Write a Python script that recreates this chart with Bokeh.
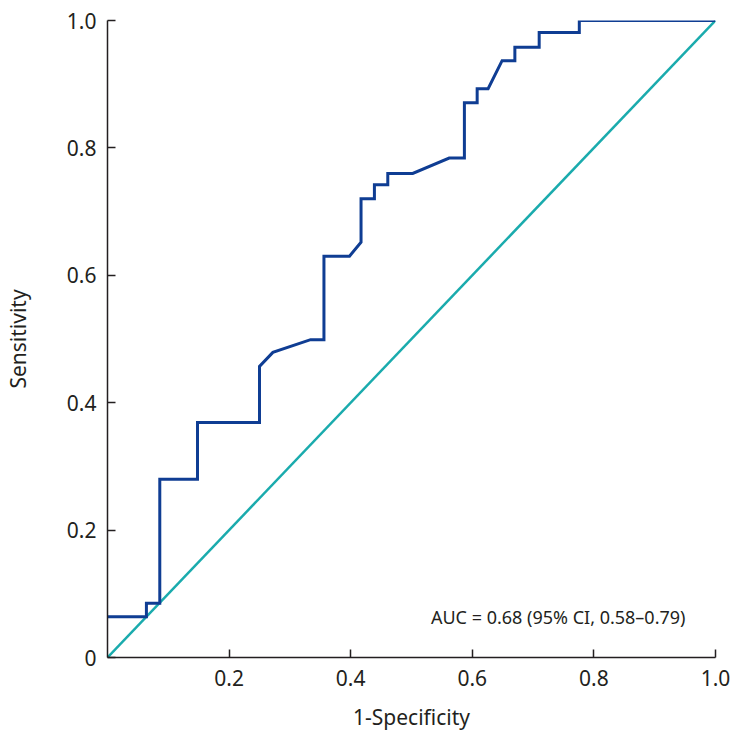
from bokeh.plotting import figure
from bokeh.models import FixedTicker, Range1d, Label
from bokeh.embed import file_html
from bokeh.resources import INLINE

# ROC curve points (1-specificity, sensitivity)
fpr = [0.0, 0.064, 0.064, 0.086, 0.086, 0.148, 0.148, 0.250, 0.250, 0.272, 0.334, 0.356,
       0.356, 0.398, 0.417, 0.417, 0.439, 0.439, 0.461, 0.461, 0.502, 0.562, 0.587,
       0.587, 0.608, 0.608, 0.626, 0.649, 0.670, 0.670, 0.710, 0.710, 0.776, 0.776, 1.0]
tpr = [0.064, 0.064, 0.085, 0.085, 0.280, 0.280, 0.369, 0.369, 0.457, 0.479, 0.499, 0.499,
       0.630, 0.630, 0.652, 0.720, 0.720, 0.742, 0.742, 0.760, 0.760, 0.784, 0.784,
       0.871, 0.871, 0.893, 0.893, 0.937, 0.937, 0.958, 0.958, 0.981, 0.981, 1.0, 1.0]
ref_x = [0.0, 1.0]
ref_y = [0.0, 1.0]
x_ticks = [0.2, 0.4, 0.6, 0.8, 1.0]
x_tick_labels = ["0.2", "0.4", "0.6", "0.8", "1.0"]
y_ticks = [0.0, 0.2, 0.4, 0.6, 0.8, 1.0]
y_tick_labels = ["0", "0.2", "0.4", "0.6", "0.8", "1.0"]
auc_text = "AUC = 0.68 (95% CI, 0.58\u20130.79)"

FONT = "Noto Sans"
TXT = "#231f20"

p = figure(width=736, height=745, output_backend="svg", toolbar_location=None,
           x_range=Range1d(0, 1), y_range=Range1d(0, 1),
           min_border_left=106, min_border_right=21, min_border_top=20, min_border_bottom=88)
p.outline_line_color = None
p.xgrid.grid_line_color = None
p.ygrid.grid_line_color = None
p.background_fill_color = "white"
p.border_fill_color = "white"

p.line(ref_x, ref_y, line_color="#1aabad", line_width=2.5)
p.line(fpr, tpr, line_color="#0f3d93", line_width=3, line_join="miter")

p.xaxis.ticker = FixedTicker(ticks=x_ticks)
p.xaxis.major_label_overrides = {t: l for t, l in zip(x_ticks, x_tick_labels)}
p.yaxis.ticker = FixedTicker(ticks=y_ticks)
p.yaxis.major_label_overrides = {t: l for t, l in zip(y_ticks, y_tick_labels)}

for ax in (p.xaxis, p.yaxis):
    ax.axis_line_color = TXT
    ax.axis_line_width = 1.5
    ax.major_tick_line_color = TXT
    ax.major_tick_line_width = 1.5
    ax.major_tick_in = 8
    ax.major_tick_out = 0
    ax.minor_tick_line_color = None
    ax.major_label_text_font = FONT
    ax.major_label_text_font_size = "21px"
    ax.major_label_text_color = TXT
    ax.axis_label_text_font = FONT
    ax.axis_label_text_font_size = "21px"
    ax.axis_label_text_font_style = "normal"
    ax.axis_label_text_color = TXT

p.xaxis.axis_label = "1-Specificity"
p.yaxis.axis_label = "Sensitivity"
p.xaxis.major_label_standoff = 12
p.xaxis.axis_label_standoff = 14
p.yaxis.major_label_standoff = 11
p.yaxis.axis_label_standoff = 32

p.add_layout(Label(x=0.532, y=0.063, text=auc_text, text_font=FONT, text_font_size="18px",
                   text_color=TXT, text_baseline="middle", text_align="left"))

open("out.html", "w").write(file_html(p, INLINE))
